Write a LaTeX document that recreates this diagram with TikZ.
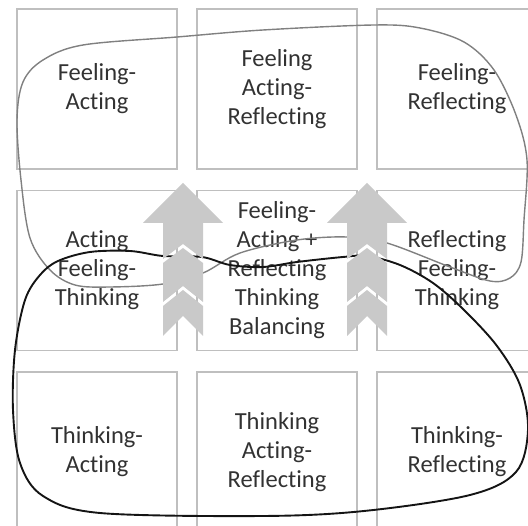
\documentclass[tikz,border=0pt]{standalone}
\usepackage{fontspec}
\setmainfont{Carlito}[Ligatures={NoCommon}]
\definecolor{boxline}{RGB}{191,191,191}
\definecolor{txt}{RGB}{50,50,50}
\definecolor{arrowfill}{RGB}{201,201,201}
\definecolor{loopgray}{RGB}{128,128,128}
\definecolor{loopblack}{RGB}{20,20,20}
\tikzset{
  cell/.style={draw=boxline, line width=1.6pt, minimum width=160pt, minimum height=160pt,
    inner sep=0pt, align=center, text=txt, font=\fontsize{24.5}{29}\selectfont},
  grayloop/.style={draw=loopgray, line width=1.4pt},
  blackloop/.style={draw=loopblack, line width=1.9pt},
  arrowpiece/.style={fill=arrowfill, draw=none}
}
\newcommand\chevstack[1]{%
  \fill[arrowpiece] (#1,183) -- (#1+40,223) -- (#1+20,223) -- (#1+20,259) -- (#1,244) -- (#1-20,259) -- (#1-20,223) -- (#1-40,223) -- cycle;
  \fill[arrowpiece] (#1,248) -- (#1+20,263) -- (#1+20,302) -- (#1,286) -- (#1-20,302) -- (#1-20,263) -- cycle;
  \fill[arrowpiece] (#1,290) -- (#1+20,306) -- (#1+20,336) -- (#1,316) -- (#1-20,336) -- (#1-20,306) -- cycle;
}
\begin{document}
\begin{tikzpicture}[x=1pt,y=-1pt]
\useasboundingbox (0,0) rectangle (528,526);
\clip (0,0) rectangle (528,526);
% boxes
\node[cell] (fa)  at (97,89)    {Feeling-\\Acting};
\node[cell] (far) at (277,89)   {Feeling\\Acting-\\Reflecting};
\node[cell] (fr)  at (457,89)   {Feeling-\\Reflecting};
\node[cell] (aft) at (97,270.5) {Acting\\Feeling-\\Thinking};
\node[cell] (mid) at (277,270.5){Feeling-\\Acting +\\Reflecting\\Thinking\\Balancing};
\node[cell] (rft) at (457,270.5){Reflecting\\Feeling-\\Thinking};
\node[cell] (ta)  at (97,452)   {Thinking-\\Acting};
\node[cell] (tar) at (277,452)  {Thinking\\Acting-\\Reflecting};
\node[cell] (tr)  at (457,452)  {Thinking-\\Reflecting};
% gray loop
\draw[grayloop] plot[smooth cycle, tension=0.55] coordinates {
 (163,284) (203,273) (240,253) (297,240) (347,237) (387,243) (450,267) (490,281)
 (510,278) (521,262) (524,220) (527,160) (516,115) (494,70) (464,42) (420,28)
 (374,25) (263,30) (177,37) (83,45) (43,60) (23,82) (17,120) (21,180) (30,238)
 (50,270) (75,285) (110,287)};
% black loop
\draw[blackloop] plot[smooth cycle, tension=0.55] coordinates {
 (163,256) (202,257) (230,265) (263,267) (297,262) (343,257) (367,256) (400,265)
 (433,283) (464,310) (497,346) (520,385) (528,430) (516,472) (470,495) (364,511)
 (263,516) (100,513) (43,496) (20,463) (13,410) (15,350) (25,300) (40,275)
 (58,261) (90,252) (130,251)};
% arrows
\chevstack{183}
\chevstack{367}
\end{tikzpicture}
\end{document}
